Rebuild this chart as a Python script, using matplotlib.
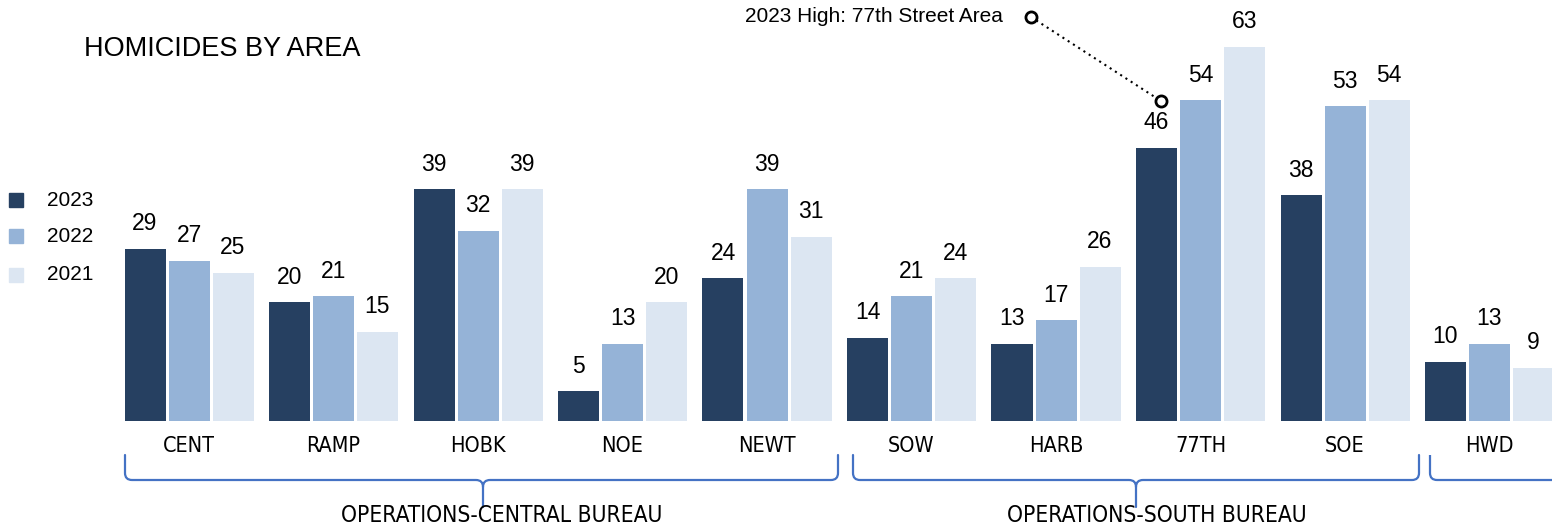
import matplotlib.pyplot as plt
from matplotlib.path import Path
from matplotlib.patches import PathPatch
import numpy as np

plt.rcParams['font.family'] = ['Liberation Sans', 'DejaVu Sans']

areas = ['CENT', 'RAMP', 'HOBK', 'NOE', 'NEWT', 'SOW', 'HARB', '77TH', 'SOE', 'HWD']
years = ['2023', '2022', '2021']
h2023 = [29, 20, 39, 5, 24, 14, 13, 46, 38, 10]
h2022 = [27, 21, 32, 13, 39, 21, 17, 54, 53, 13]
h2021 = [25, 15, 39, 20, 31, 24, 26, 63, 54, 9]
colors = ['#264061', '#95B3D7', '#DCE6F2']

W, H = 1552, 529
fig = plt.figure(figsize=(W / 100, H / 100), dpi=100)
ax = fig.add_axes([0, 0, 1, 1])

# pixel layout of the reference: group spacing 144.5 px, 5.94 px per homicide
x0px, dxpx, base_px, ypx = 189, 144.5, 421, 5.94
ax.set_xlim(-x0px / dxpx, (W - x0px) / dxpx)
ax.set_ylim(-(H - base_px) / ypx, base_px / ypx)
ax.axis('off')


def px(x):
    return (x - x0px) / dxpx


def py(y):
    return (base_px - y) / ypx


x = np.arange(len(areas))
step = 44 / dxpx
bw = 41 / dxpx
for k, vals in enumerate([h2023, h2022, h2021]):
    pos = x + (k - 1) * step
    ax.bar(pos, vals, width=bw, color=colors[k], linewidth=0)
    for p, v in zip(pos, vals):
        ax.annotate(str(v), (p, v), xytext=(0, 18), textcoords='offset points',
                    ha='center', va='center', fontsize=16.5, color='black')

narrow = dict(family=['DejaVu Sans'], fontstretch='condensed')
for i, a in enumerate(areas):
    ax.text(i, py(446), a, ha='center', va='center', fontsize=15.5, **narrow)

# title and legend
fig.text(84 / W, 1 - 49 / H, 'HOMICIDES BY AREA', fontsize=19.5, va='center', ha='left')
for k, (yr, c) in enumerate(zip(years, colors)):
    yc = [200, 236, 275][k]
    fig.patches.append(plt.Rectangle((9 / W, 1 - (yc + 7) / H), 14 / W, 14 / H,
                                     transform=fig.transFigure, color=c))
    fig.text(47 / W, 1 - yc / H, yr, fontsize=15, va='center', ha='left')


# braces under the bureaus
def brace(xl, xr, xm, top=455, hy=480, tip=507, r=7):
    verts = [(xl, top), (xl, hy - r), (xl, hy), (xl + r, hy), (xm - r, hy), (xm, hy), (xm, hy + r), (xm, tip)]
    codes = [Path.MOVETO, Path.LINETO, Path.CURVE3, Path.CURVE3, Path.LINETO, Path.CURVE3, Path.CURVE3, Path.LINETO]
    verts2 = [(xr, top), (xr, hy - r), (xr, hy), (xr - r, hy), (xm + r, hy), (xm, hy), (xm, hy + r)]
    codes2 = [Path.MOVETO, Path.LINETO, Path.CURVE3, Path.CURVE3, Path.LINETO, Path.CURVE3, Path.CURVE3]
    for vv, cc in [(verts, codes), (verts2, codes2)]:
        pth = Path([(px(a), py(b)) for a, b in vv], cc)
        ax.add_patch(PathPatch(pth, fill=False, edgecolor='#4472C4', lw=1.6, capstyle='round'))


brace(125, 838, 483)
brace(853, 1419, 1136)
# HWD brace continues past the right edge
pth = Path([(px(1430), py(455)), (px(1430), py(473)), (px(1430), py(480)), (px(1437), py(480)), (px(1600), py(480))],
           [Path.MOVETO, Path.LINETO, Path.CURVE3, Path.CURVE3, Path.LINETO])
ax.add_patch(PathPatch(pth, fill=False, edgecolor='#4472C4', lw=1.6))

ax.text(px(502), py(516), 'OPERATIONS-CENTRAL BUREAU', ha='center', va='center', fontsize=16.3, **narrow)
ax.text(px(1157), py(516), 'OPERATIONS-SOUTH BUREAU', ha='center', va='center', fontsize=16.3, **narrow)

# callout for the 2023 high
ax.plot([px(1031), px(1161)], [py(17), py(101)], ls=(0, (1, 2)), color='black', lw=1.5)
ax.plot([px(1031), px(1161)], [py(17), py(101)], 'o', ms=8, mfc='white', mec='black', mew=2)
ax.text(px(1003), py(16), '2023 High: 77th Street Area', ha='right', va='center', fontsize=15)

fig.savefig('out.png', dpi=100)
